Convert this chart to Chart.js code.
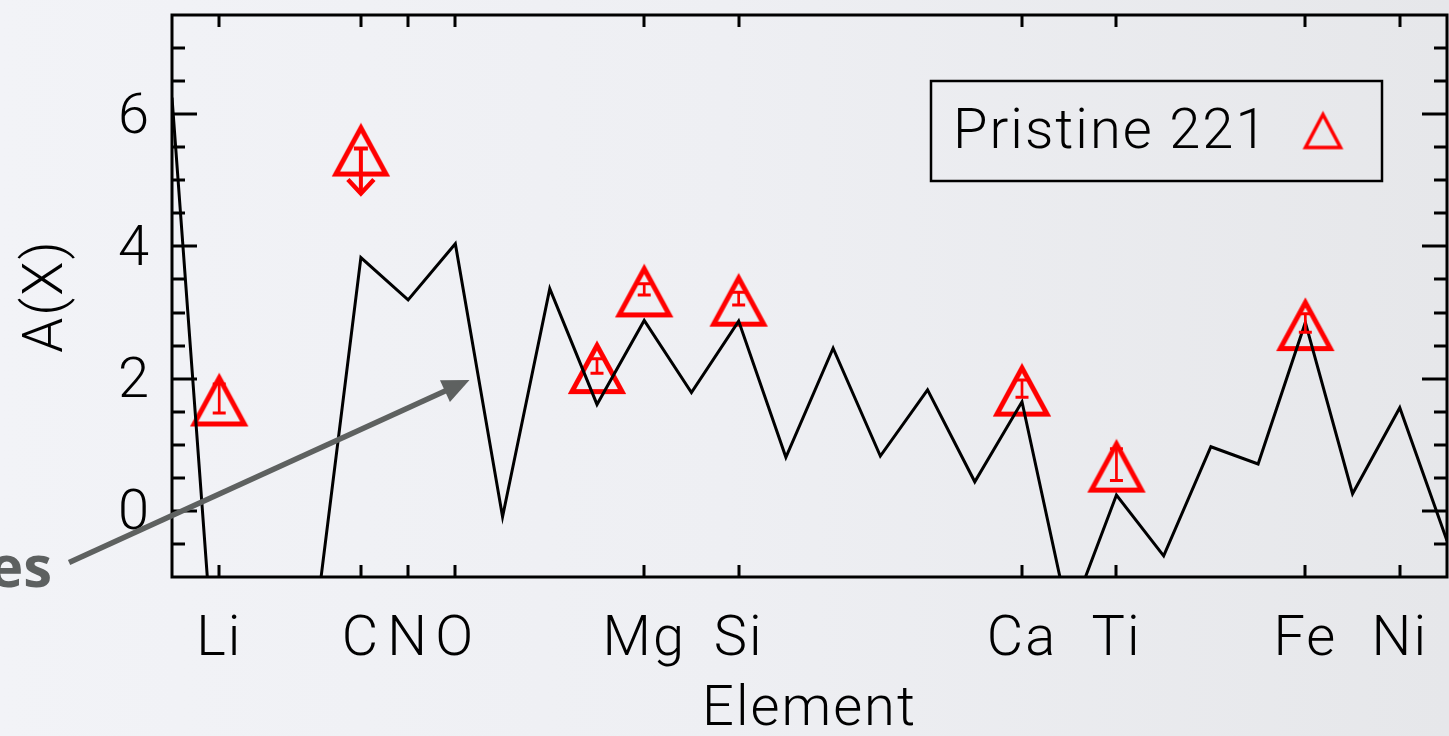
<!DOCTYPE html>
<html>
<head>
<meta charset="utf-8">
<script src="https://cdn.jsdelivr.net/npm/chart.js@4.4.1/dist/chart.umd.min.js"></script>
<style>
  html, body { margin: 0; padding: 0; }
  body {
    width: 1449px; height: 736px; overflow: hidden;
    background: linear-gradient(90deg, #f2f3f7 0%, #eeeff3 50%, #e6e7ea 100%);
  }
  #abund { display: block; }
</style>
</head>
<body>
<canvas id="abund" width="1449" height="736"></canvas>
<script>
// element labels on the x axis (atomic number)
const elements = ["Li", "C", "N", "O", "Mg", "Si", "Ca", "Ti", "Fe", "Ni"];
const elementZ = [3, 6, 7, 8, 12, 14, 20, 22, 26, 28];

// scaled solar pattern, He..Cu
const solarZ = [2, 3, 4, 5, 6, 7, 8, 9, 10, 11, 12, 13, 14, 15, 16, 17, 18, 19, 20, 21, 22, 23, 24, 25, 26, 27, 28, 29];
const solarA = [6.25, -3.44, -3.1, -1.9, 3.83, 3.19, 4.04, -0.09, 3.36, 1.61, 2.88, 1.79, 2.87, 0.81, 2.46, 0.83,
                1.83, 0.44, 1.65, -1.65, 0.24, -0.68, 0.97, 0.71, 2.85, 0.26, 1.56, -0.45];

// Pristine 221 measurements
const starZ = [3, 6, 11, 12, 14, 20, 22, 26];
const starA = [1.70, 5.48, 2.19, 3.35, 3.21, 1.85, 0.70, 2.84];
const starErr = [0.22, 0, 0.11, 0.085, 0.095, 0.13, 0.24, 0.14];
const starUpper = [false, true, false, false, false, false, false, false];

const yTicks = { min: -1, max: 7.5, step: 0.5, major: 2 };
const legendLabel = "Pristine 221";

// annotation pointer, in data units
const pointerFrom = { x: -0.18, y: -0.78 };
const pointerTo = { x: 8.30, y: 1.98 };

const RED = "#ff0000";
const FONT = { family: "Roboto, 'Noto Sans', sans-serif", size: 56, weight: 300 };

function triangleImage(w, h, lw, dy) {
  const c = document.createElement("canvas");
  const pad = Math.ceil(lw * 2);
  c.width = w + pad * 2;
  c.height = h + pad * 2;
  const g = c.getContext("2d");
  const cx = c.width / 2, cy = c.height / 2 + dy;
  g.strokeStyle = RED;
  g.lineWidth = lw;
  g.lineJoin = "miter";
  g.beginPath();
  g.moveTo(cx, cy - h / 2);
  g.lineTo(cx + w / 2, cy + h / 2);
  g.lineTo(cx - w / 2, cy + h / 2);
  g.closePath();
  g.stroke();
  return c;
}

const triMark = triangleImage(50, 46, 5, 2.4);
const triLegend = triangleImage(35, 33, 3.5, 0);

const idlFrame = {
  id: "idlFrame",
  beforeDraw(chart) {
    chart.ctx.letterSpacing = "2px";
  },
  afterDatasetsDraw(chart) {
    const { ctx, chartArea: a, scales: { x, y } } = chart;
    ctx.save();

    // error bars and the upper limit
    ctx.strokeStyle = RED;
    ctx.lineCap = "butt";
    starZ.forEach((z, i) => {
      const px = x.getPixelForValue(z);
      const py = y.getPixelForValue(starA[i]);
      if (starUpper[i]) {
        ctx.lineWidth = 4;
        ctx.beginPath();
        ctx.moveTo(px - 7, py); ctx.lineTo(px + 7, py);
        ctx.moveTo(px, py); ctx.lineTo(px, py + 44);
        ctx.stroke();
        ctx.lineWidth = 4.5;
        ctx.beginPath();
        ctx.moveTo(px - 13, py + 31); ctx.lineTo(px, py + 45); ctx.lineTo(px + 13, py + 31);
        ctx.stroke();
      } else {
        const top = y.getPixelForValue(starA[i] + starErr[i]);
        const bot = y.getPixelForValue(starA[i] - starErr[i]);
        ctx.lineWidth = 2.7;
        ctx.beginPath();
        ctx.moveTo(px, top); ctx.lineTo(px, bot);
        ctx.stroke();
        ctx.lineWidth = 3;
        ctx.beginPath();
        ctx.moveTo(px - 6.5, top); ctx.lineTo(px + 6.5, top);
        ctx.moveTo(px - 6.5, bot); ctx.lineTo(px + 6.5, bot);
        ctx.stroke();
      }
    });

    // plot box with inward ticks on all four sides
    ctx.strokeStyle = "#000";
    ctx.lineWidth = 3;
    ctx.strokeRect(a.left, a.top, a.right - a.left, a.bottom - a.top);
    ctx.beginPath();
    y.ticks.forEach(t => {
      if (t.value <= y.min || t.value >= y.max) return;
      const py = Math.round(y.getPixelForValue(t.value));
      const len = t.value % yTicks.major === 0 ? 25 : 13;
      ctx.moveTo(a.left, py); ctx.lineTo(a.left + len, py);
      ctx.moveTo(a.right, py); ctx.lineTo(a.right - len, py);
    });
    x.ticks.forEach(t => {
      const px = Math.round(x.getPixelForValue(t.value));
      ctx.moveTo(px, a.bottom); ctx.lineTo(px, a.bottom - 12);
      ctx.moveTo(px, a.top); ctx.lineTo(px, a.top + 12);
    });
    ctx.stroke();

    // legend box
    const bx = a.right - 516, by = a.top + 66, bw = 451, bh = 100;
    ctx.lineWidth = 2.5;
    ctx.strokeRect(bx, by, bw, bh);
    ctx.fillStyle = "#000";
    ctx.font = `${FONT.weight} ${FONT.size}px ${FONT.family}`;
    ctx.textAlign = "left";
    ctx.textBaseline = "alphabetic";
    ctx.fillText(legendLabel, bx + 22, by + 67);
    ctx.drawImage(triLegend, bx + 392 - triLegend.width / 2, by + 50 - triLegend.height / 2);

    ctx.restore();
  },
  afterDraw(chart) {
    const { ctx, scales: { x, y } } = chart;
    const x0 = x.getPixelForValue(pointerFrom.x), y0 = y.getPixelForValue(pointerFrom.y);
    const x1 = x.getPixelForValue(pointerTo.x), y1 = y.getPixelForValue(pointerTo.y);
    const ang = Math.atan2(y1 - y0, x1 - x0);
    const headLen = 27, headHalf = 12;
    const bxp = x1 - headLen * Math.cos(ang), byp = y1 - headLen * Math.sin(ang);
    ctx.save();
    ctx.strokeStyle = "#5e6160";
    ctx.fillStyle = "#5e6160";
    ctx.lineWidth = 5.5;
    ctx.beginPath();
    ctx.moveTo(x0, y0);
    ctx.lineTo(bxp + 2 * Math.cos(ang), byp + 2 * Math.sin(ang));
    ctx.stroke();
    ctx.beginPath();
    ctx.moveTo(x1, y1);
    ctx.lineTo(bxp - headHalf * Math.sin(ang), byp + headHalf * Math.cos(ang));
    ctx.lineTo(bxp + headHalf * Math.sin(ang), byp - headHalf * Math.cos(ang));
    ctx.closePath();
    ctx.fill();

    ctx.letterSpacing = "0px";
    ctx.font = "700 58px 'Open Sans', sans-serif";
    ctx.textAlign = "right";
    ctx.textBaseline = "alphabetic";
    ctx.fillStyle = "#5d6060";
    ctx.fillText("es", 52, 587);
    ctx.restore();
  }
};

new Chart(document.getElementById("abund"), {
  type: "line",
  data: {
    datasets: [
      {
        data: solarZ.map((z, i) => ({ x: z, y: solarA[i] })),
        borderColor: "#000",
        borderWidth: 3,
        pointRadius: 0,
        tension: 0,
        fill: false
      },
      {
        type: "scatter",
        data: starZ.map((z, i) => ({ x: z, y: starA[i] })),
        pointStyle: triMark,
        pointRadius: 28,
        clip: false
      }
    ]
  },
  options: {
    responsive: false,
    animation: false,
    devicePixelRatio: 1,
    layout: { autoPadding: false, padding: { top: 15, right: 2, left: 0, bottom: 0 } },
    plugins: { legend: { display: false }, tooltip: { enabled: false } },
    scales: {
      x: {
        type: "linear",
        min: 2,
        max: 29,
        grid: { display: false, drawTicks: false },
        border: { display: false },
        afterBuildTicks: s => { s.ticks = elementZ.map(v => ({ value: v })); },
        afterFit: s => {
          s.height = 159;
          s.paddingLeft = 0;
          s.paddingRight = 0;
        },
        ticks: {
          autoSkip: false,
          maxRotation: 0,
          padding: 30,
          color: "#000",
          font: FONT,
          callback: v => elements[elementZ.indexOf(v)]
        },
        title: { display: true, text: "Element", color: "#000", font: FONT, padding: { top: 0, bottom: -9 } }
      },
      y: {
        min: yTicks.min,
        max: yTicks.max,
        grid: { display: false, drawTicks: false },
        border: { display: false },
        afterFit: s => {
          s.width = 172;
          s.paddingTop = 0;
          s.paddingBottom = 0;
        },
        ticks: {
          stepSize: yTicks.step,
          autoSkip: false,
          padding: 21,
          labelOffset: 4.5,
          color: "#000",
          font: FONT,
          callback: v => (v % yTicks.major === 0 ? String(v) : "")
        },
        title: { display: true, text: "A(X)", color: "#000", font: FONT, padding: { top: 14, bottom: 0 } }
      }
    }
  },
  plugins: [idlFrame]
});
</script>
</body>
</html>
